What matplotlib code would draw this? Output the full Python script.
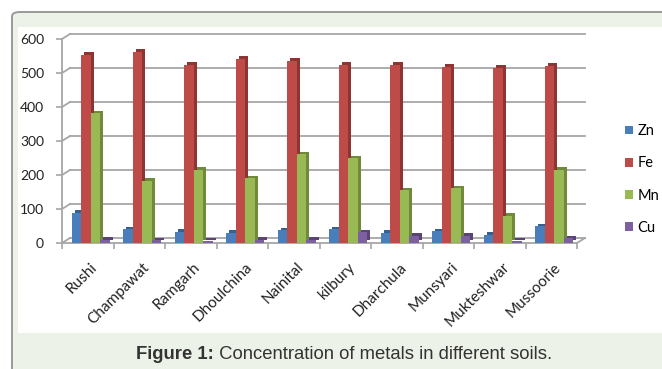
import numpy as np
import matplotlib
matplotlib.use("Agg")
import matplotlib.pyplot as plt
from matplotlib.patches import FancyBboxPatch, Rectangle

# soil sites and metal concentrations
sites = ["Rushi", "Champawat", "Ramgarh", "Dhoulchina", "Nainital",
         "kilbury", "Dharchula", "Munsyari", "Mukteshwar", "Mussoorie"]
zn = [88, 40, 32, 29, 37, 40, 30, 34, 23, 49]
fe = [553, 562, 523, 542, 535, 525, 523, 519, 516, 521]
mn = [381, 182, 215, 190, 261, 249, 155, 161, 80, 216]
cu = [10, 8, 6, 10, 10, 31, 20, 22, 7, 14]
metals = ["Zn", "Fe", "Mn", "Cu"]
yticks = [0, 100, 200, 300, 400, 500, 600]

colors = ["#4a7ebb", "#be4b48", "#98b954", "#7d60a0"]
dark = ["#35608f", "#8e3432", "#6f8a3a", "#5a4476"]

W, H = 662, 369
fig = plt.figure(figsize=(W / 100, H / 100), dpi=100)
fig.patch.set_facecolor("white")

def fx(px):
    return px / W

def fy(py):
    return 1 - py / H

# outer frame and inner white panel
fig.patches.append(FancyBboxPatch((fx(12), fy(380)), fx(700), fy(12) - fy(380),
                                  boxstyle="round,pad=0,rounding_size=0.012",
                                  transform=fig.transFigure, facecolor="#edf2e8",
                                  edgecolor="#9a9a9a", linewidth=1.4, zorder=0))
fig.patches.append(Rectangle((fx(18), fy(333)), fx(660), fy(27) - fy(333),
                             transform=fig.transFigure, facecolor="white",
                             edgecolor="none", zorder=1))

ax = fig.add_axes([fx(62), fy(243), fx(577) - fx(62), fy(39) - fy(243)])
ax.set_facecolor("none")
ax.set_zorder(2)
n = len(sites)
ax.set_xlim(0, n)
ax.set_ylim(0, 600)

# depth of the 3d wall in data units
ddx = 8 / (515 / n)
ddy = 5 / (204 / 600)
grid_c = "#a6a6a6"
for v in yticks:
    ax.plot([ddx, n + ddx], [v + ddy, v + ddy], color=grid_c, lw=1.3,
            clip_on=False, zorder=1)
    ax.plot([0, ddx], [v, v + ddy], color=grid_c, lw=1.3, clip_on=False, zorder=1)
ax.plot([0, n], [0, 0], color=grid_c, lw=1.3, clip_on=False, zorder=1)
ax.plot([n, n + ddx], [0, ddy], color=grid_c, lw=1.3, clip_on=False, zorder=1)

# bars with a darker offset copy for the 3d sides
bw = 0.185
sx, sy = 0.06, 8
x0 = np.arange(n) + 0.19
for k, vals in enumerate([zn, fe, mn, cu]):
    xs = x0 + k * bw
    ax.bar(xs + sx, vals, width=bw, bottom=sy, align="edge", color=dark[k],
           zorder=3 + 2 * k)
    ax.bar(xs, vals, width=bw, align="edge", color=colors[k], zorder=4 + 2 * k,
           label=metals[k])

for s in ["top", "right", "bottom"]:
    ax.spines[s].set_visible(False)
ax.spines["left"].set_color(grid_c)
ax.spines["left"].set_linewidth(1.3)

ax.set_yticks(yticks)
ax.tick_params(axis="y", length=4, width=1.2, color=grid_c, pad=9,
               labelsize=10, labelcolor="#222222")
ax.set_xticks(np.arange(n + 1))
ax.set_xticklabels([])
ax.tick_params(axis="x", length=4, width=1.2, color=grid_c)
for lab in ax.get_yticklabels():
    lab.set_family("Lato")

for i, name in enumerate(sites):
    ax.text(i + 0.55, -50, name, rotation=45, ha="right", va="top",
            rotation_mode="anchor", fontsize=11, family="Lato", color="#222222")

ax.legend(loc="center left", bbox_to_anchor=(fx(625), fy(179.5)),
          bbox_transform=fig.transFigure, frameon=False,
          handlelength=0.55, handleheight=0.55, handletextpad=0.3,
          borderpad=0, borderaxespad=0, labelspacing=1.25,
          prop={"family": "Lato", "size": 10.5})

# caption: bold lead-in followed by regular text, centred as a whole
cap_font = "Liberation Sans"
t1 = fig.text(0, fy(359), "Figure 1:", ha="left", va="baseline", fontsize=13.3,
              family=cap_font, weight="bold", color="#333333")
t2 = fig.text(0, fy(359), " Concentration of metals in different soils.",
              ha="left", va="baseline", fontsize=13.3, family=cap_font,
              color="#333333")
r = fig.canvas.get_renderer()
w1 = t1.get_window_extent(r).width
w2 = t2.get_window_extent(r).width
start = 344 - (w1 + w2) / 2
t1.set_x(fx(start))
t2.set_x(fx(start + w1))

fig.savefig("out.png", dpi=100, facecolor=fig.get_facecolor())
